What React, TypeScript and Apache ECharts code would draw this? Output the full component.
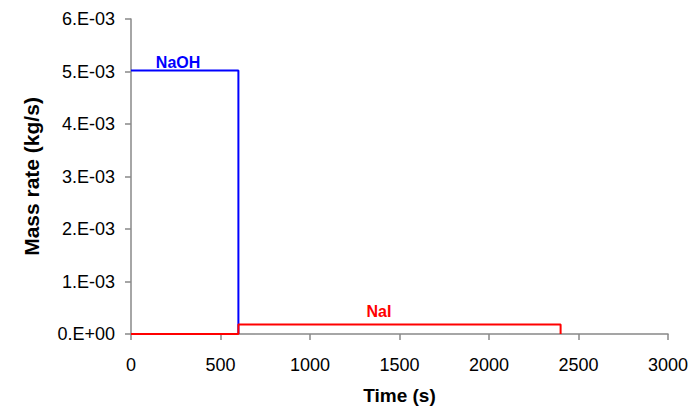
import React, { useEffect, useRef } from "react";
import * as echarts from "echarts";

const naohData: [number, number][] = [
  [0, 0.00502],
  [600, 0.00502],
  [600, 0],
];
const naiData: [number, number][] = [
  [0, 0],
  [600, 0],
  [600, 0.00018],
  [2400, 0.00018],
  [2400, 0],
];
const yTickLabels = ["0.E+00", "1.E-03", "2.E-03", "3.E-03", "4.E-03", "5.E-03", "6.E-03"];
const xTicks = [0, 500, 1000, 1500, 2000, 2500, 3000];
const seriesNames = ["NaOH", "NaI"];
const labelCoords: [number, number][] = [
  [263, 0.00502],
  [1385, 0.00018],
];

const FONT = "'Liberation Sans', Arial, sans-serif";

export default function App() {
  const ref = useRef<HTMLDivElement>(null);
  useEffect(() => {
    if (!ref.current) return;
    const chart = echarts.init(ref.current, undefined, { renderer: "svg" });
    chart.setOption({
      animation: false,
      backgroundColor: "#ffffff",
      textStyle: { fontFamily: FONT },
      grid: {
        left: 131,
        right: 23,
        top: 19,
        bottom: 73,
        containLabel: false,
        outerBoundsMode: "none",
      },
      xAxis: {
        type: "value",
        min: xTicks[0],
        max: xTicks[xTicks.length - 1],
        interval: 500,
        name: "Time (s)",
        nameLocation: "middle",
        nameGap: 51,
        nameTextStyle: { fontFamily: FONT, fontSize: 19, fontWeight: "bold", color: "#000", lineHeight: 20 },
        axisLine: { show: true, lineStyle: { color: "#888", width: 1.5 } },
        axisTick: { show: true, inside: false, length: 6, lineStyle: { color: "#888", width: 1.5 } },
        axisLabel: {
          fontFamily: FONT,
          fontSize: 18,
          color: "#000",
          margin: 22,
          formatter: (v: number) => String(v),
        },
        splitLine: { show: false },
      },
      yAxis: {
        type: "value",
        min: 0,
        max: 0.006,
        interval: 0.001,
        name: "Mass rate (kg/s)",
        nameLocation: "middle",
        nameGap: 89,
        nameRotate: 90,
        nameTextStyle: { fontFamily: FONT, fontSize: 21, fontWeight: "bold", color: "#000" },
        axisLine: { show: true, lineStyle: { color: "#888", width: 1.5 } },
        axisTick: { show: true, inside: false, length: 6, lineStyle: { color: "#888", width: 1.5 } },
        axisLabel: {
          fontFamily: FONT,
          fontSize: 18,
          color: "#000",
          margin: 16,
          formatter: (v: number) => yTickLabels[Math.round(v / 0.001)] ?? "",
        },
        splitLine: { show: false },
      },
      series: [
        {
          name: seriesNames[0],
          type: "line",
          data: naohData,
          symbol: "none",
          z: 3,
          lineStyle: { color: "#0000ff", width: 2 },
          markPoint: {
            symbol: "circle",
            symbolSize: 0,
            data: [
              {
                coord: labelCoords[0],
                label: {
                  show: true,
                  formatter: seriesNames[0],
                  position: "inside",
                  offset: [0, -8],
                  color: "#0000ff",
                  fontFamily: FONT,
                  fontSize: 16,
                  fontWeight: "bold",
                },
              },
            ],
          },
        },
        {
          name: seriesNames[1],
          type: "line",
          data: naiData,
          symbol: "none",
          z: 4,
          lineStyle: { color: "#ff0000", width: 2 },
          markPoint: {
            symbol: "circle",
            symbolSize: 0,
            data: [
              {
                coord: labelCoords[1],
                label: {
                  show: true,
                  formatter: seriesNames[1],
                  position: "inside",
                  offset: [0, -13],
                  color: "#ff0000",
                  fontFamily: FONT,
                  fontSize: 16,
                  fontWeight: "bold",
                },
              },
            ],
          },
        },
      ],
    });
    return () => chart.dispose();
  }, []);
  return <div ref={ref} style={{ width: 691, height: 407, position: "absolute", left: 0, top: 0 }} />;
}
